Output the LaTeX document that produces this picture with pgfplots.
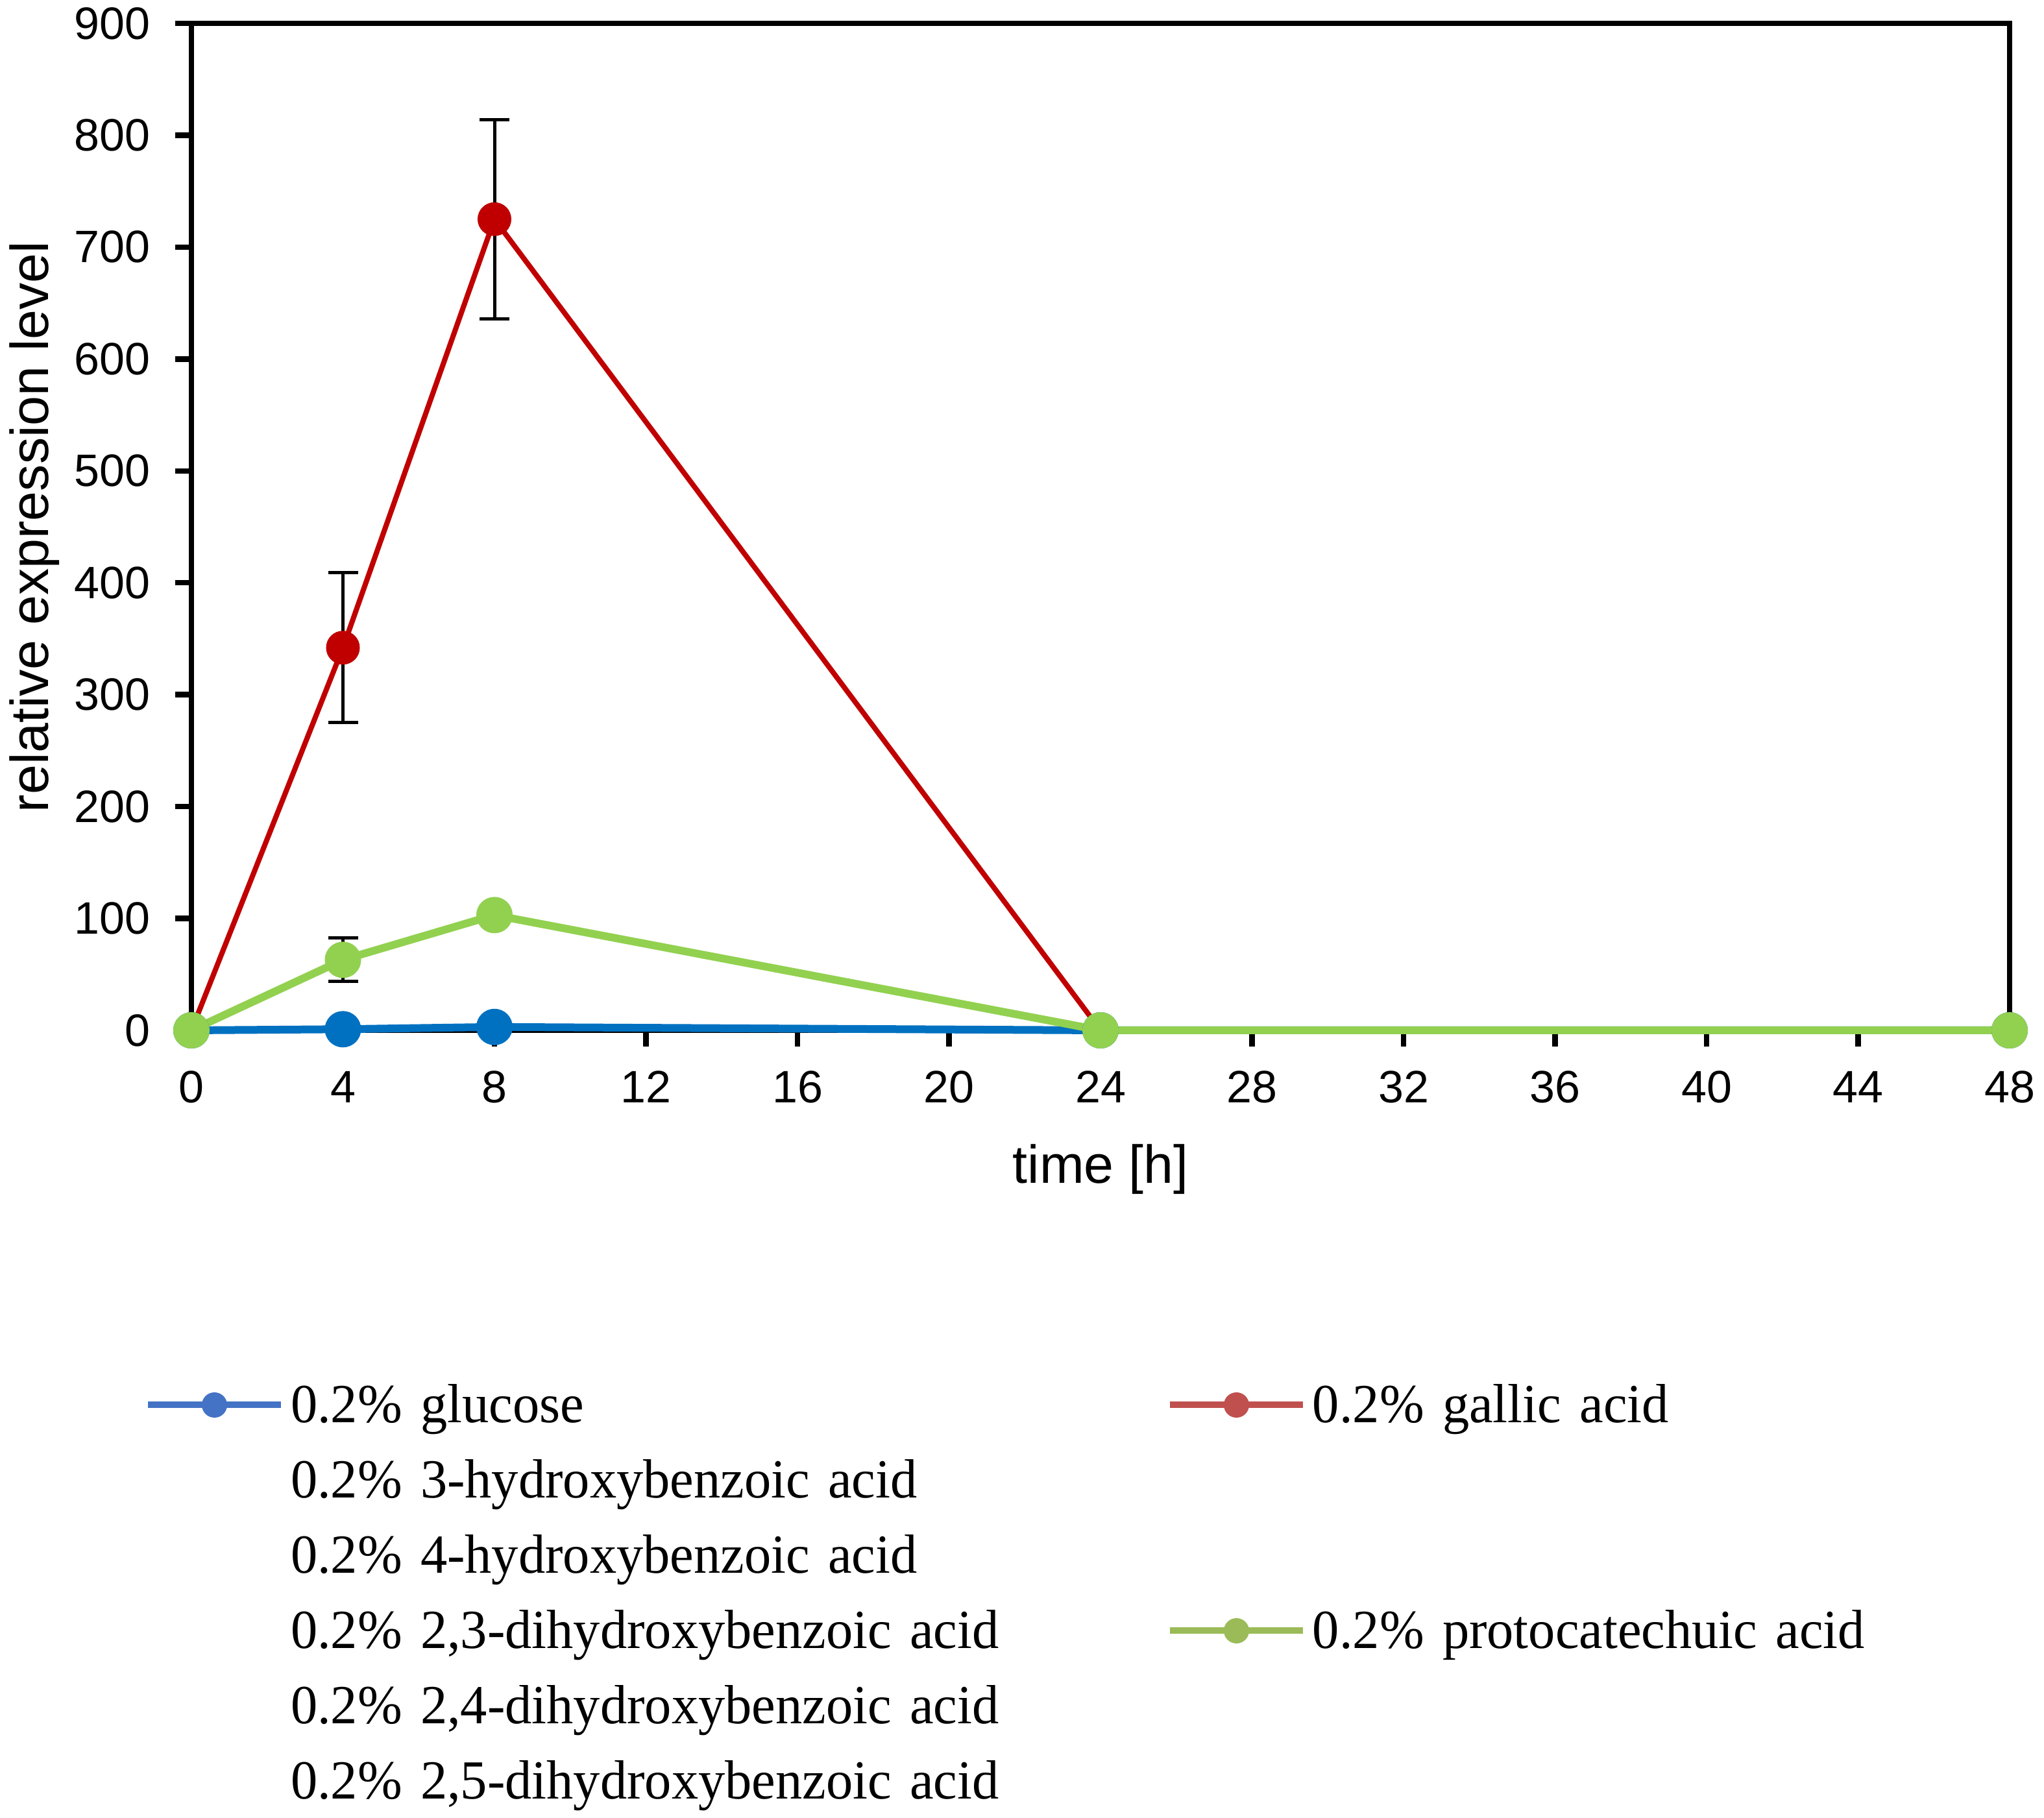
\documentclass[border=0pt]{standalone}
\usepackage{fontspec}
\setmainfont{Liberation Sans}
\newfontfamily\serifleg[FakeStretch=0.97]{Liberation Serif}
\usepackage{pgfplots}
\pgfplotsset{compat=1.18}
\definecolor{cblue}{RGB}{0,112,192}
\definecolor{cred}{RGB}{192,0,0}
\definecolor{cgreen}{RGB}{146,208,80}
\definecolor{lblue}{RGB}{68,114,196}
\definecolor{lred}{RGB}{192,80,77}
\definecolor{lgreen}{RGB}{155,187,89}
\pgfplotstableread{
x y
0 0
4 1
8 3
24 0
48 0
}\glucose
\pgfplotstableread{
x y e
0 0 0
4 342 67
8 725 89
24 0 0
48 0 0
}\gallic
\pgfplotstableread{
x y e
0 0 0
4 63 19.5
8 103 3
24 0 0
48 0 0
}\proto
\begin{document}
\begin{tikzpicture}
\useasboundingbox (0,0) rectangle (630bp,560.4bp);
\begin{axis}[
  at={(59bp,242.8bp)}, anchor=south west,
  scale only axis, width=560.4bp, height=310.4bp,
  xmin=0, xmax=48, ymin=0, ymax=900,
  xtick={0,4,...,48}, ytick={0,100,...,900},
  tick align=outside, xtick pos=bottom, ytick pos=left,
  major tick length=5bp,
  axis line style={line width=1.7bp, black},
  every tick/.style={black, line width=1.7bp},
  /pgf/number format/assume math mode=true,
  ticklabel style={font=\fontsize{14bp}{16bp}\selectfont, inner sep=0pt},
  xticklabel style={yshift=-7.4bp},
  yticklabel style={xshift=-7.6bp},
  clip=false,
  xlabel={time [h]}, ylabel={relative expression level},
  label style={font=\fontsize{16.5bp}{19bp}\selectfont, inner sep=0pt},
  xlabel style={at={(axis description cs:0.5,-0.1128)}, anchor=north},
  ylabel style={at={(axis description cs:-0.1003,0.5)}, anchor=north},
  legend columns=2,
  legend cell align=left,
  legend style={at={(-0.0257,-0.3447)}, anchor=north west, draw=none, fill=none,
    inner sep=0pt, outer sep=0pt, /tikz/column sep=0pt,
    /tikz/every odd column/.append style={column sep=2bp},
    /tikz/row sep=6.2bp,
    nodes={inner sep=0pt, text height=14bp, text depth=3bp, text width=270bp, align=left,
      font=\serifleg\fontsize{17bp}{20bp}\selectfont}},
]
\addplot[cblue, line width=2.4bp, mark=*, mark size=4.4bp, mark options={draw=none, fill=cblue}, forget plot] table[x=x, y=y] {\glucose};
\addplot[cred, line width=1.6bp, mark=*, mark size=4.4bp, mark options={draw=none, fill=cred}, forget plot,
  error bars/.cd, y dir=both, y explicit,
  error bar style={black, line width=1bp},
  error mark options={rotate=90, black, mark size=4.6bp, line width=1bp}] table[x=x, y=y, y error=e] {\gallic};
\addplot[cgreen, line width=2.4bp, mark=*, mark size=4.4bp, mark options={draw=none, fill=cgreen}, forget plot,
  error bars/.cd, y dir=both, y explicit,
  error bar style={black, line width=1bp},
  error mark options={rotate=90, black, mark size=4.6bp, line width=1bp}] table[x=x, y=y, y error=e] {\proto};

\addlegendimage{legend image code/.code={\draw[lblue, line width=2bp] (0bp,0bp) -- (41bp,0bp); \fill[lblue] (20.5bp,0bp) circle (3.7bp);}}
\addlegendentry{0.2\% glucose}
\addlegendimage{legend image code/.code={\draw[lred, line width=2bp] (0bp,0bp) -- (41bp,0bp); \fill[lred] (20.5bp,0bp) circle (3.7bp);}}
\addlegendentry{0.2\% gallic acid}
\addlegendimage{empty legend}
\addlegendentry{0.2\% 3-hydroxybenzoic acid}
\addlegendimage{empty legend}
\addlegendentry{\mbox{}}
\addlegendimage{empty legend}
\addlegendentry{0.2\% 4-hydroxybenzoic acid}
\addlegendimage{empty legend}
\addlegendentry{\mbox{}}
\addlegendimage{empty legend}
\addlegendentry{0.2\% 2,3-dihydroxybenzoic acid}
\addlegendimage{legend image code/.code={\draw[lgreen, line width=2bp] (0bp,0bp) -- (41bp,0bp); \fill[lgreen] (20.5bp,0bp) circle (3.7bp);}}
\addlegendentry{0.2\% protocatechuic acid}
\addlegendimage{empty legend}
\addlegendentry{0.2\% 2,4-dihydroxybenzoic acid}
\addlegendimage{empty legend}
\addlegendentry{\mbox{}}
\addlegendimage{empty legend}
\addlegendentry{0.2\% 2,5-dihydroxybenzoic acid}
\addlegendimage{empty legend}
\addlegendentry{\mbox{}}
\end{axis}
\end{tikzpicture}
\end{document}
